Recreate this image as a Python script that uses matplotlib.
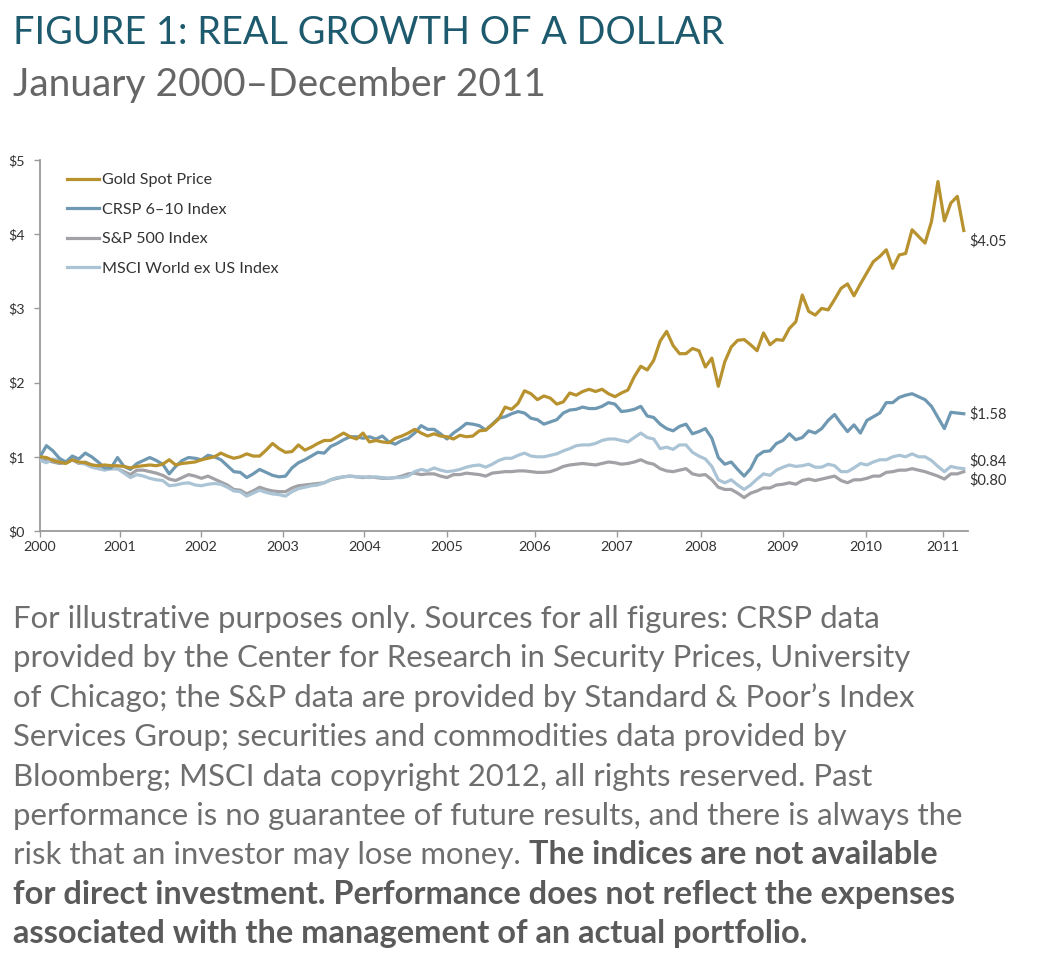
import matplotlib
matplotlib.use("Agg")
import matplotlib.pyplot as plt
from matplotlib.lines import Line2D
import numpy as np

# ---------------- data (monthly, Jan 2000 - Dec 2011, real growth of $1) ----------------
gold = [1.00, 0.99, 0.95, 0.93, 0.91, 0.96, 0.93, 0.92, 0.89, 0.88, 0.89, 0.88,
        0.88, 0.87, 0.85, 0.87, 0.88, 0.89, 0.88, 0.90, 0.96, 0.89, 0.91, 0.92,
        0.93, 0.96, 0.98, 1.00, 1.05, 1.01, 0.98, 1.00, 1.04, 1.01, 1.01, 1.09,
        1.18, 1.11, 1.06, 1.07, 1.16, 1.09, 1.13, 1.18, 1.22, 1.22, 1.27, 1.32,
        1.27, 1.24, 1.32, 1.20, 1.22, 1.20, 1.19, 1.25, 1.28, 1.32, 1.37, 1.32,
        1.28, 1.31, 1.28, 1.27, 1.24, 1.29, 1.27, 1.28, 1.35, 1.36, 1.43, 1.51,
        1.67, 1.64, 1.72, 1.89, 1.85, 1.77, 1.82, 1.79, 1.71, 1.74, 1.86, 1.83,
        1.88, 1.91, 1.88, 1.91, 1.85, 1.81, 1.86, 1.90, 2.08, 2.22, 2.17, 2.30,
        2.56, 2.69, 2.50, 2.39, 2.39, 2.46, 2.43, 2.21, 2.33, 1.95, 2.28, 2.48,
        2.57, 2.58, 2.51, 2.43, 2.67, 2.51, 2.58, 2.57, 2.73, 2.82, 3.18, 2.96,
        2.91, 3.00, 2.98, 3.12, 3.27, 3.33, 3.17, 3.33, 3.48, 3.63, 3.70, 3.79,
        3.54, 3.72, 3.74, 4.06, 3.97, 3.88, 4.17, 4.71, 4.18, 4.42, 4.51, 4.05]

crsp = [1.00, 1.15, 1.08, 0.98, 0.93, 1.01, 0.97, 1.05, 1.00, 0.93, 0.85, 0.85,
        0.99, 0.87, 0.83, 0.91, 0.95, 0.99, 0.95, 0.90, 0.77, 0.87, 0.95, 0.99,
        0.98, 0.96, 1.02, 1.00, 0.96, 0.88, 0.80, 0.79, 0.72, 0.77, 0.83, 0.79,
        0.75, 0.73, 0.74, 0.85, 0.92, 0.96, 1.01, 1.06, 1.05, 1.14, 1.18, 1.23,
        1.27, 1.27, 1.25, 1.27, 1.24, 1.28, 1.20, 1.17, 1.22, 1.25, 1.32, 1.42,
        1.37, 1.37, 1.31, 1.24, 1.32, 1.38, 1.45, 1.44, 1.42, 1.36, 1.44, 1.52,
        1.54, 1.58, 1.61, 1.59, 1.52, 1.50, 1.44, 1.47, 1.50, 1.59, 1.63, 1.64,
        1.67, 1.65, 1.65, 1.68, 1.73, 1.71, 1.61, 1.62, 1.64, 1.68, 1.55, 1.53,
        1.44, 1.38, 1.35, 1.41, 1.44, 1.31, 1.34, 1.38, 1.25, 0.99, 0.90, 0.93,
        0.83, 0.74, 0.84, 1.01, 1.07, 1.08, 1.18, 1.22, 1.31, 1.23, 1.26, 1.35,
        1.32, 1.38, 1.49, 1.57, 1.45, 1.34, 1.43, 1.32, 1.49, 1.54, 1.59, 1.73,
        1.73, 1.80, 1.83, 1.85, 1.81, 1.77, 1.68, 1.53, 1.38, 1.60, 1.59, 1.58]

sp500 = [0.96, 0.95, 0.93, 0.91, 0.92, 0.96, 0.91, 0.93, 0.89, 0.87, 0.84, 0.84,
         0.84, 0.80, 0.76, 0.82, 0.82, 0.80, 0.78, 0.75, 0.70, 0.68, 0.72, 0.76,
         0.74, 0.71, 0.74, 0.70, 0.66, 0.62, 0.56, 0.55, 0.50, 0.54, 0.59, 0.56,
         0.54, 0.53, 0.53, 0.58, 0.61, 0.62, 0.63, 0.64, 0.65, 0.69, 0.71, 0.73,
         0.74, 0.73, 0.72, 0.73, 0.72, 0.71, 0.71, 0.72, 0.74, 0.77, 0.78, 0.76,
         0.77, 0.77, 0.74, 0.72, 0.76, 0.76, 0.78, 0.77, 0.76, 0.74, 0.78, 0.79,
         0.80, 0.80, 0.81, 0.81, 0.80, 0.79, 0.79, 0.80, 0.83, 0.87, 0.89, 0.90,
         0.91, 0.90, 0.89, 0.91, 0.93, 0.92, 0.90, 0.91, 0.93, 0.96, 0.92, 0.90,
         0.84, 0.81, 0.80, 0.82, 0.84, 0.77, 0.75, 0.76, 0.69, 0.59, 0.56, 0.56,
         0.51, 0.45, 0.51, 0.54, 0.58, 0.58, 0.62, 0.63, 0.65, 0.63, 0.68, 0.70,
         0.68, 0.70, 0.72, 0.74, 0.68, 0.65, 0.69, 0.69, 0.71, 0.74, 0.74, 0.79,
         0.80, 0.82, 0.82, 0.84, 0.82, 0.80, 0.77, 0.74, 0.70, 0.77, 0.77, 0.80]

msci = [0.95, 0.92, 0.97, 0.95, 0.93, 0.97, 0.92, 0.90, 0.86, 0.84, 0.82, 0.84,
        0.84, 0.78, 0.72, 0.76, 0.74, 0.71, 0.69, 0.68, 0.61, 0.62, 0.64, 0.65,
        0.62, 0.61, 0.63, 0.64, 0.63, 0.59, 0.54, 0.53, 0.47, 0.51, 0.55, 0.52,
        0.50, 0.49, 0.47, 0.53, 0.57, 0.59, 0.61, 0.62, 0.65, 0.69, 0.72, 0.73,
        0.74, 0.73, 0.73, 0.72, 0.73, 0.72, 0.71, 0.72, 0.72, 0.74, 0.80, 0.83,
        0.81, 0.85, 0.82, 0.80, 0.81, 0.83, 0.86, 0.88, 0.89, 0.86, 0.90, 0.95,
        0.98, 0.98, 1.02, 1.05, 1.01, 1.00, 1.00, 1.02, 1.04, 1.08, 1.11, 1.15,
        1.16, 1.16, 1.18, 1.22, 1.24, 1.24, 1.22, 1.20, 1.26, 1.32, 1.26, 1.24,
        1.11, 1.13, 1.10, 1.16, 1.16, 1.06, 1.01, 0.97, 0.87, 0.69, 0.65, 0.69,
        0.62, 0.56, 0.62, 0.70, 0.77, 0.75, 0.82, 0.86, 0.89, 0.87, 0.88, 0.90,
        0.86, 0.86, 0.90, 0.88, 0.80, 0.80, 0.85, 0.91, 0.89, 0.93, 0.96, 0.96,
        1.00, 1.02, 1.00, 1.04, 1.00, 1.00, 0.95, 0.87, 0.80, 0.87, 0.85, 0.84]

series_names = ["Gold Spot Price", "CRSP 6\u201310 Index", "S&P 500 Index", "MSCI World ex US Index"]
end_labels = ["$4.05", "$1.58", "$0.84", "$0.80"]
year_labels = ["2000", "2001", "2002", "2003", "2004", "2005",
               "2006", "2007", "2008", "2009", "2010", "2011"]
y_ticks = [0, 1, 2, 3, 4, 5]
y_tick_labels = ["$0", "$1", "$2", "$3", "$4", "$5"]

# ---------------- style / layout ----------------
C_GOLD = "#b8922f"
C_CRSP = "#6f98b2"
C_SP = "#a2a2a6"
C_MSCI = "#abc4d5"
C_AXIS = "#9a9a9a"
C_TEXT = "#333333"
FONT = ["Lato", "DejaVu Sans"]
plt.rcParams["font.family"] = FONT

W, H = 1052, 974
fig = plt.figure(figsize=(W / 100, H / 100), dpi=100)
fig.patch.set_facecolor("white")

def fx(px):
    return px / W

def fy(py):
    return 1 - py / H

ax_l, ax_r, ax_t, ax_b = 40, 968, 160, 531
ax = fig.add_axes([fx(ax_l), fy(ax_b), fx(ax_r - ax_l), (ax_b - ax_t) / H])

months = np.arange(len(gold))
px_per_month = 6.46
ax.set_xlim(0, (ax_r - ax_l) / px_per_month)
ax.set_ylim(0, 5)

lw = 2.3
ax.plot(months, sp500, color=C_SP, lw=lw, solid_joinstyle="round", zorder=2)
ax.plot(months, msci, color=C_MSCI, lw=lw, solid_joinstyle="round", zorder=3)
ax.plot(months, crsp, color=C_CRSP, lw=lw, solid_joinstyle="round", zorder=4)
ax.plot(months, gold, color=C_GOLD, lw=lw, solid_joinstyle="round", zorder=5)

# year tick positions as placed on the original axis (in month units)
tick_pos = [0, 12.4, 24.9, 37.6, 50.2, 63.0, 76.6, 89.3, 102.3, 115.0, 127.9, 139.8]
ax.set_xticks(tick_pos)
ax.set_xticklabels(year_labels)
ax.set_yticks(y_ticks)
ax.set_yticklabels(y_tick_labels)

for s in ["top", "right"]:
    ax.spines[s].set_visible(False)
for s in ["left", "bottom"]:
    ax.spines[s].set_color(C_AXIS)
    ax.spines[s].set_linewidth(1.3)
ax.tick_params(axis="both", colors=C_AXIS, length=4, width=1.0, labelsize=10.3,
               labelcolor=C_TEXT, pad=3)
ax.tick_params(axis="y", pad=7)

# end labels
last = len(gold) - 1
end_vals = [3.90, crsp[last], 0.94, 0.69]
for lab, v in zip(end_labels, end_vals):
    ax.annotate(lab, xy=(last, v), xytext=(4, 0), textcoords="offset points",
                ha="left", va="center", fontsize=10.5, color=C_TEXT, annotation_clip=False)

# legend
handles = [Line2D([], [], color=c, lw=lw) for c in (C_GOLD, C_CRSP, C_SP, C_MSCI)]
leg = ax.legend(handles, series_names, loc="upper left",
                bbox_to_anchor=(fx(67), fy(173)), bbox_transform=fig.transFigure,
                frameon=False, fontsize=11.6, handlelength=2.0, handletextpad=0.15,
                labelspacing=0.95, borderaxespad=0, borderpad=0)
for t in leg.get_texts():
    t.set_color(C_TEXT)

# titles
fig.text(fx(13), fy(33), "FIGURE 1: REAL GROWTH OF A DOLLAR", fontsize=27.3,
         color="#1e5a6e", ha="left", va="center")
fig.text(fx(13), fy(85), "January 2000\u2013December 2011", fontsize=28,
         color="#666666", ha="left", va="center")

# footnote paragraph
body_color = "#6e6e6e"
bold_color = "#5a5a5a"
fs = 22.4
fs_bold = 23.4
lines = [
    "For illustrative purposes only. Sources for all figures: CRSP data",
    "provided by the Center for Research in Security Prices, University",
    "of Chicago; the S&P data are provided by Standard & Poor\u2019s Index",
    "Services Group; securities and commodities data provided by",
    "Bloomberg; MSCI data copyright 2012, all rights reserved. Past",
    "performance is no guarantee of future results, and there is always the",
]
base0 = 628
step = 39.4
for i, ln in enumerate(lines):
    fig.text(fx(13), fy(base0 + i * step), ln, fontsize=fs, color=body_color,
             ha="left", va="baseline")

y7 = base0 + 6 * step
t_norm = fig.text(fx(13), fy(y7), "risk that an investor may lose money.", fontsize=fs,
                  color=body_color, ha="left", va="baseline")
fig.canvas.draw()
r = fig.canvas.get_renderer()
bb = t_norm.get_window_extent(renderer=r)
fig.text((bb.x1 + 8) / W, fy(y7), "The indices are not available", fontsize=fs_bold,
         color=bold_color, fontweight="bold", ha="left", va="baseline")
fig.text(fx(13), fy(base0 + 7 * step),
         "for direct investment. Performance does not reflect the expenses",
         fontsize=fs_bold, color=bold_color, fontweight="bold", ha="left", va="baseline")
fig.text(fx(13), fy(base0 + 8 * step),
         "associated with the management of an actual portfolio.",
         fontsize=fs_bold, color=bold_color, fontweight="bold", ha="left", va="baseline")

fig.savefig("out.png", dpi=100, facecolor="white")
